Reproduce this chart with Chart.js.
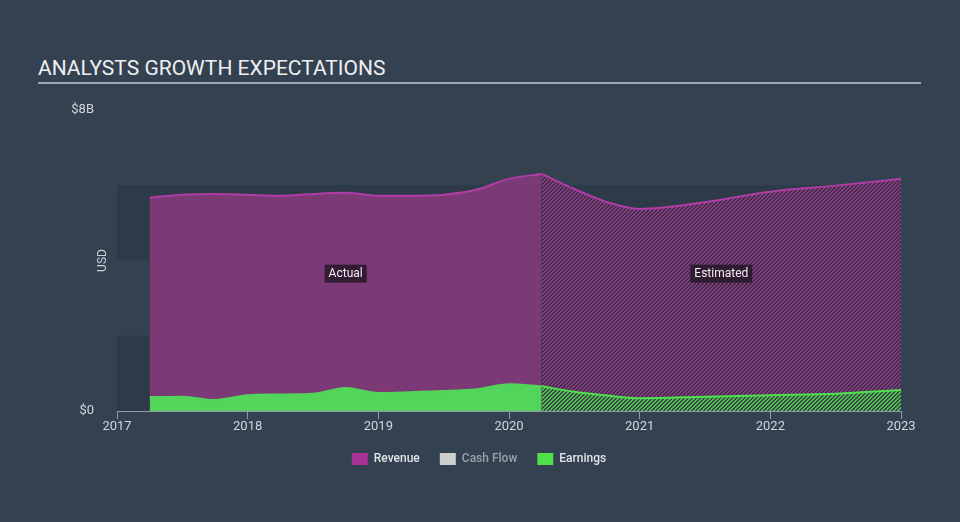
<!DOCTYPE html>
<html>
<head>
<meta charset="utf-8">
<title>Analysts Growth Expectations</title>
<script src="https://cdn.jsdelivr.net/npm/chart.js"></script>
<style>
  html, body { margin: 0; padding: 0; background: #334151; }
  #wrap { position: relative; width: 960px; height: 522px; }
  #title {
    position: absolute; left: 38px; top: 56px; width: 883px;
    font-family: Roboto, sans-serif; font-size: 21px; color: #eef0f2;
    padding-bottom: 2px; border-bottom: 2px solid #9ea6af; line-height: 24px;
  }
  canvas { position: absolute; left: 0; top: 0; }
</style>
</head>
<body>
<div id="wrap">
  <div id="title">ANALYSTS GROWTH EXPECTATIONS</div>
  <canvas id="growthChart" width="960" height="522"></canvas>
</div>
<script>
// values in $ billions
const actualYears = [2017.25, 2017.5, 2017.75, 2018, 2018.25, 2018.5, 2018.75, 2019, 2019.25, 2019.5, 2019.75, 2020, 2020.25];
const revenueActual = [5.67, 5.75, 5.77, 5.75, 5.72, 5.77, 5.80, 5.72, 5.72, 5.75, 5.88, 6.17, 6.30];
const earningsActual = [0.37, 0.38, 0.29, 0.42, 0.44, 0.46, 0.61, 0.48, 0.50, 0.53, 0.58, 0.71, 0.66];

const estYears = [2020.25, 2020.5, 2020.75, 2021, 2021.5, 2022, 2022.5, 2023];
const revenueEst = [6.30, 5.90, 5.55, 5.37, 5.55, 5.83, 5.99, 6.17];
const earningsEst = [0.66, 0.51, 0.41, 0.34, 0.38, 0.42, 0.46, 0.56];

const xTicks = [2017, 2018, 2019, 2020, 2021, 2022, 2023];
const yTicks = [0, 8];
const periodLabels = [
  { text: 'Actual', from: 2017.25, to: 2020.25 },
  { text: 'Estimated', from: 2020.25, to: 2023 }
];

const pts = (xs, ys) => xs.map((x, i) => ({ x: x, y: ys[i] }));

function hatch(base, stripe) {
  const c = document.createElement('canvas');
  c.width = 4; c.height = 4;
  const g = c.getContext('2d');
  g.fillStyle = base;
  g.fillRect(0, 0, 4, 4);
  g.fillStyle = stripe;
  for (let i = 0; i < 4; i++) {
    g.fillRect(i, 3 - i, 1, 1);
    g.fillRect((i + 1) % 4, 3 - i, 1, 1);
  }
  return g.createPattern(c, 'repeat');
}

const ctx = document.getElementById('growthChart').getContext('2d');

const bandsPlugin = {
  id: 'bands',
  beforeDatasetsDraw(chart) {
    const { ctx, chartArea, scales } = chart;
    const y = scales.y;
    ctx.save();
    ctx.fillStyle = '#2e3a48';
    [[0, 2], [4, 6]].forEach(b => {
      const top = y.getPixelForValue(b[1]);
      const bot = y.getPixelForValue(b[0]);
      ctx.fillRect(chartArea.left, top, chartArea.right - chartArea.left, bot - top);
    });
    ctx.restore();
  },
  afterDatasetsDraw(chart) {
    const { ctx, scales } = chart;
    ctx.save();
    ctx.font = '12px Roboto, sans-serif';
    ctx.textAlign = 'center';
    ctx.textBaseline = 'middle';
    periodLabels.forEach(p => {
      const cx = scales.x.getPixelForValue((p.from + p.to) / 2);
      const cy = scales.y.getPixelForValue(3.65);
      const w = ctx.measureText(p.text).width + 8;
      ctx.fillStyle = 'rgba(38,22,40,0.85)';
      ctx.fillRect(cx - w / 2, cy - 9, w, 18);
      ctx.fillStyle = '#eeeeee';
      ctx.fillText(p.text, cx, cy + 0.5);
    });
    // axis title
    ctx.translate(103, (scales.y.top + scales.y.bottom) / 2);
    ctx.rotate(-Math.PI / 2);
    ctx.fillStyle = '#cdd1d6';
    ctx.fillText('USD', 0, 0);
    ctx.restore();
  }
};

const legendColors = { 'Revenue': '#a83296', 'Cash Flow': '#cfcfcf', 'Earnings': '#4fe04a' };

new Chart(ctx, {
  type: 'line',
  data: {
    datasets: [
      {
        label: 'Revenue',
        data: pts(actualYears, revenueActual),
        borderColor: '#b13ca6', borderWidth: 2,
        backgroundColor: '#7b3a75', fill: 'origin', order: 2
      },
      {
        label: 'Revenue estimate',
        data: pts(estYears, revenueEst),
        borderColor: '#b13ca6', borderWidth: 2,
        backgroundColor: hatch('#3e3049', '#8a3a82'), fill: 'origin', order: 2
      },
      {
        label: 'Cash Flow',
        data: [],
        borderColor: '#cfcfcf', backgroundColor: '#cfcfcf', order: 3
      },
      {
        label: 'Earnings',
        data: pts(actualYears, earningsActual),
        borderColor: '#52d55a', borderWidth: 2,
        backgroundColor: '#52d55a', fill: 'origin', order: 1
      },
      {
        label: 'Earnings estimate',
        data: pts(estYears, earningsEst),
        borderColor: '#4ee04e', borderWidth: 2,
        backgroundColor: hatch('#3c4a47', '#4fbf50'), fill: 'origin', order: 1
      }
    ]
  },
  options: {
    responsive: false,
    animation: false,
    cubicInterpolationMode: 'monotone',
    elements: { point: { radius: 0 } },
    layout: { padding: { left: 57, right: 59, top: 110, bottom: 47 } },
    scales: {
      x: {
        type: 'linear', min: 2017, max: 2023,
        afterBuildTicks: s => { s.ticks = xTicks.map(v => ({ value: v })); },
        afterFit: s => { s.height = 22; },
        grid: { display: true, drawOnChartArea: false, drawTicks: true, tickLength: 8, color: '#8f9aa6' },
        border: { display: true, color: '#8f9aa6', width: 1 },
        ticks: {
          color: '#d3d6da', font: { family: 'Roboto, sans-serif', size: 13 }, padding: 0,
          maxRotation: 0, callback: v => String(v)
        }
      },
      y: {
        min: 0, max: 8,
        afterBuildTicks: s => { s.ticks = yTicks.map(v => ({ value: v })); },
        afterFit: s => { s.width = 60; },
        grid: { display: false },
        border: { display: false },
        ticks: {
          color: '#d3d6da', font: { family: 'Roboto, sans-serif', size: 13 }, padding: 15,
          callback: v => v === 0 ? '$0' : '$' + v + 'B'
        }
      }
    },
    plugins: {
      tooltip: { enabled: false },
      legend: {
        position: 'bottom',
        labels: {
          boxWidth: 16, boxHeight: 12, padding: 20,
          font: { family: 'Roboto, sans-serif', size: 12, weight: '500' },
          generateLabels: chart => ['Revenue', 'Cash Flow', 'Earnings'].map(name => {
            const i = chart.data.datasets.findIndex(d => d.label === name);
            return {
              text: name, datasetIndex: i,
              fillStyle: legendColors[name], strokeStyle: legendColors[name], lineWidth: 0,
              fontColor: name === 'Cash Flow' ? '#9ba1a8' : '#e2e4e6', hidden: false
            };
          })
        }
      }
    }
  },
  plugins: [bandsPlugin]
});
</script>
</body>
</html>
